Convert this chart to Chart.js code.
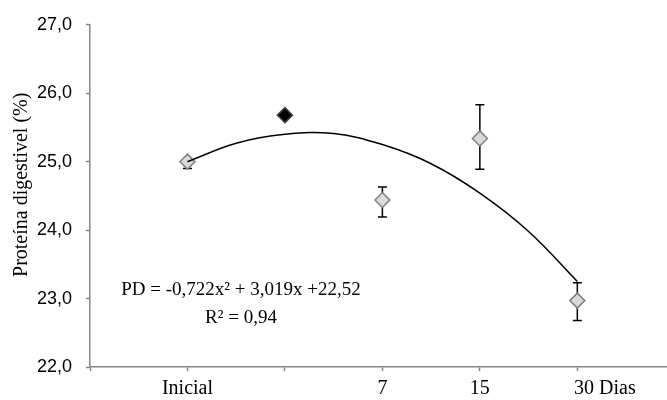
<!DOCTYPE html>
<html>
<head>
<meta charset="utf-8">
<script src="https://cdn.jsdelivr.net/npm/chart.js@4/dist/chart.umd.min.js"></script>
<style>
  body { margin: 0; background: #fff; }
  canvas { display: block; }
</style>
</head>
<body>
<canvas id="pdChart" width="667" height="400"></canvas>
<script>
// values
const dayLabels = ['Inicial', '', '7', '15', '30 Dias'];
const pdMean = [25.00, 25.68, 24.44, 25.34, 22.97];
const pdLow = [24.90, null, 24.19, 24.89, 22.68];
const pdHigh = [25.04, null, 24.63, 25.83, 23.23];
const filledPoint = [false, true, false, false, false];
const trendX = [1, 1.5, 2, 2.5, 3, 3.5, 4, 4.5, 5];
const trendY = [25.00, 25.27, 25.40, 25.41, 25.25, 24.97, 24.54, 23.98, 23.25];
const yTicks = [22, 23, 24, 25, 26, 27];
const equationLines = ['PD = -0,722x² + 3,019x +22,52', 'R² = 0,94'];
const axisTitle = 'Proteína digestivel (%)';

const serif = '"Liberation Serif", "Times New Roman", serif';
const axisGray = '#868686';

// the last label sits right of its tick in the original, pad it over
function xLabel(v) {
  const label = dayLabels[v - 1] ?? '';
  return v === dayLabels.length ? ' '.repeat(11) + label : label;
}

const extrasPlugin = {
  id: 'extras',
  beforeDatasetsDraw(chart) {
    const { ctx, scales: { x, y } } = chart;
    ctx.save();
    ctx.strokeStyle = '#000';
    ctx.lineWidth = 1.5;
    pdMean.forEach((v, i) => {
      if (pdLow[i] == null) return;
      const px = x.getPixelForValue(i + 1);
      const top = y.getPixelForValue(pdHigh[i]);
      const bot = y.getPixelForValue(pdLow[i]);
      ctx.beginPath();
      ctx.moveTo(px, top); ctx.lineTo(px, bot);
      ctx.moveTo(px - 4.5, top); ctx.lineTo(px + 4.5, top);
      ctx.moveTo(px - 4.5, bot); ctx.lineTo(px + 4.5, bot);
      ctx.stroke();
    });
    ctx.restore();
  },
  afterDraw(chart) {
    const { ctx, chartArea } = chart;
    ctx.save();
    ctx.fillStyle = '#000';
    ctx.textAlign = 'center';
    ctx.textBaseline = 'middle';
    ctx.font = '19px ' + serif;
    ctx.fillText(equationLines[0], chartArea.left + 151, chartArea.top + 265);
    ctx.fillText(equationLines[1], chartArea.left + 151, chartArea.top + 293);

    ctx.translate(22, chartArea.top + 160);
    ctx.rotate(-Math.PI / 2);
    ctx.font = '20px ' + serif;
    ctx.fillText(axisTitle, 0, 0);
    ctx.restore();
  }
};

new Chart(document.getElementById('pdChart'), {
  type: 'scatter',
  data: {
    datasets: [
      {
        data: trendX.map((x, i) => ({ x, y: trendY[i] })),
        showLine: true,
        borderColor: '#000',
        borderWidth: 1.5,
        pointRadius: 0,
        tension: 0.4,
        fill: false
      },
      {
        data: pdMean.map((y, i) => ({ x: i + 1, y })),
        pointStyle: 'rectRot',
        pointRadius: 7.5,
        pointBorderWidth: 1.5,
        pointBackgroundColor: ctx => filledPoint[ctx.dataIndex] ? '#000' : '#d9d9d9',
        pointBorderColor: ctx => filledPoint[ctx.dataIndex] ? '#404040' : '#7f7f7f'
      }
    ]
  },
  options: {
    responsive: false,
    animation: false,
    layout: { autoPadding: false, padding: { top: 17, right: 0, bottom: 0, left: 0 } },
    plugins: {
      legend: { display: false },
      tooltip: { enabled: false }
    },
    scales: {
      x: {
        type: 'linear',
        min: 0,
        max: 5.92,
        afterBuildTicks: s => { s.ticks = [0, 1, 2, 3, 4, 5].map(v => ({ value: v })); },
        afterFit: s => { s.height = 33; s.paddingLeft = 0; s.paddingRight = 0; },
        border: { color: axisGray, width: 1.5 },
        grid: { drawOnChartArea: false, tickLength: 4, color: axisGray, tickWidth: 1.5 },
        ticks: {
          callback: xLabel,
          autoSkip: false,
          maxRotation: 0,
          padding: 6,
          color: '#000',
          font: { family: serif, size: 20 }
        }
      },
      y: {
        min: 22,
        max: 27,
        afterBuildTicks: s => { s.ticks = yTicks.map(v => ({ value: v })); },
        afterFit: s => { s.width = 90; },
        border: { color: axisGray, width: 1.5 },
        grid: { drawOnChartArea: false, tickLength: 4, color: axisGray, tickWidth: 1.5 },
        ticks: {
          callback: v => v.toFixed(1).replace('.', ','),
          padding: 14,
          color: '#000',
          font: { family: '"Liberation Sans", Arial, sans-serif', size: 18 }
        }
      }
    }
  },
  plugins: [extrasPlugin]
});
</script>
</body>
</html>
